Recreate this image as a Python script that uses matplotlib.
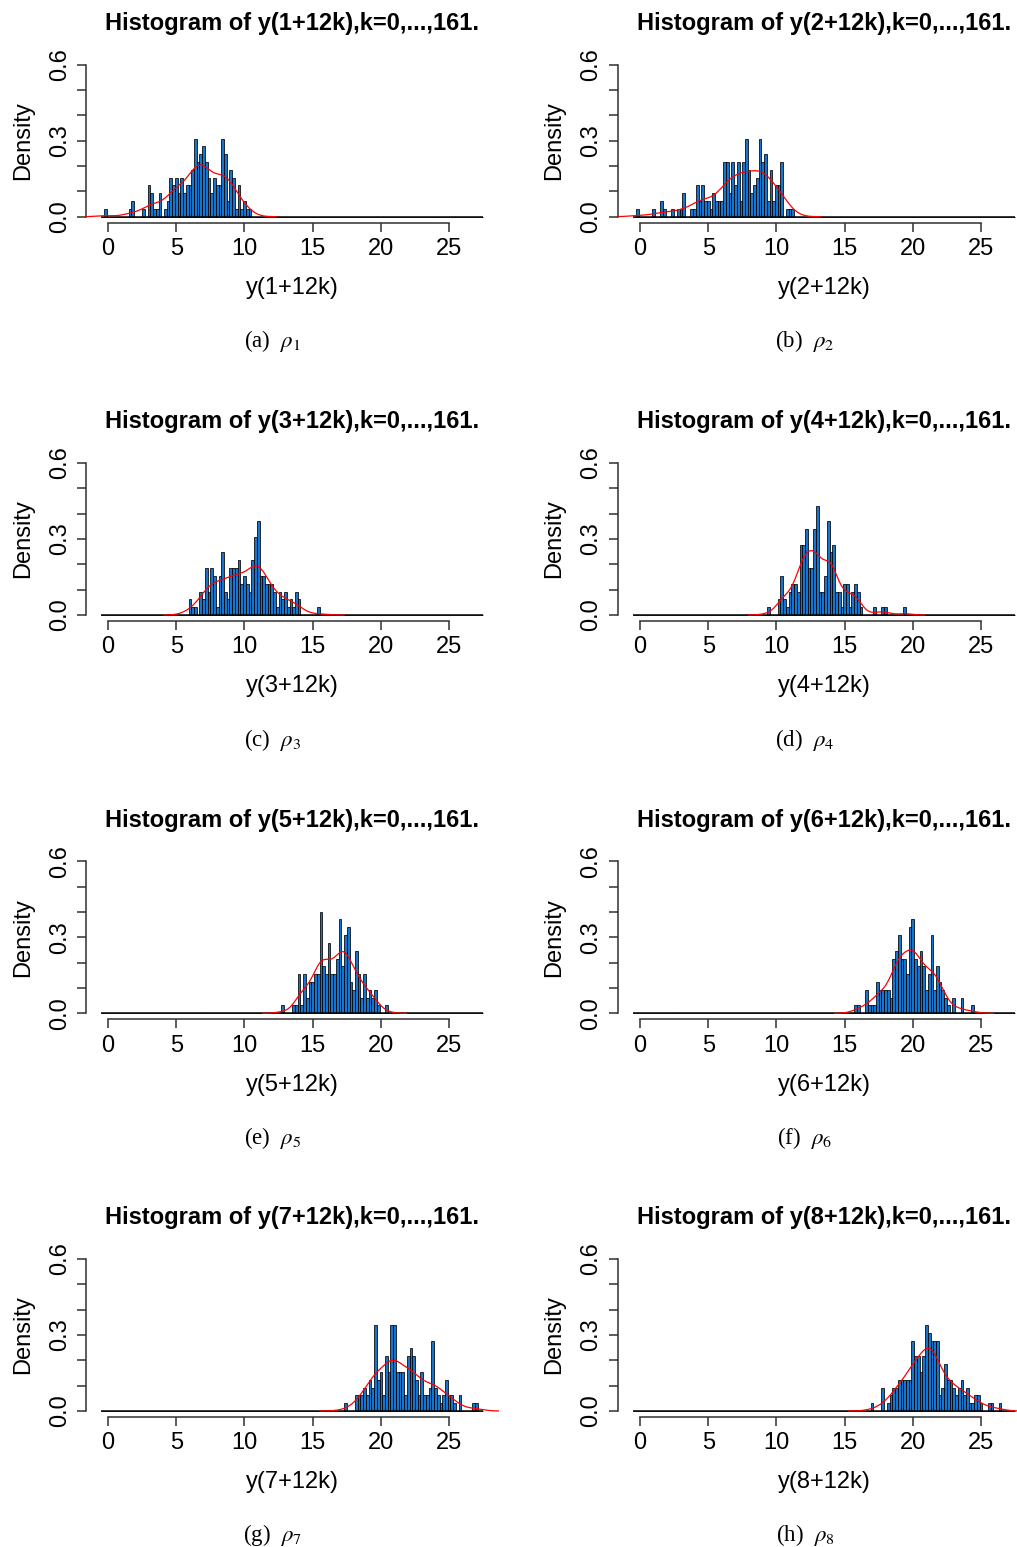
import numpy as np
import matplotlib
matplotlib.use("Agg")
import matplotlib.pyplot as plt

# ---------------------------------------------------------------------------
# Data: histogram counts of y(j+12k), k = 0..161, bins of width 0.2 on
# [-0.5, 27.5].  Each list starts at the bin whose left edge is start_yj.
# ---------------------------------------------------------------------------
N_OBS = 162
BIN_WIDTH = 0.2
BREAK_LO, BREAK_HI = -0.5, 27.5

start_y1 = -0.3
counts_y1 = [1, 0, 0, 0, 0, 0, 0, 0, 0, 1, 2, 0, 0, 0, 1, 0,
             4, 3, 1, 1, 3, 0, 1, 2, 5, 4, 5, 3, 5, 3, 4, 4, 6, 10, 7, 8,
             9, 7, 5, 3, 5, 4, 4, 10, 8, 2, 6, 5, 1, 4, 1, 2, 1, 1]

start_y2 = -0.3
counts_y2 = [1, 0, 0, 0, 0, 0, 1, 0, 0, 2, 1, 0, 0, 1, 0, 1, 1, 3, 0, 0, 1, 1,
             4, 2, 4, 2, 2, 1, 3, 2, 2, 2,
             7, 7, 3, 7, 4, 7, 2, 7, 10, 6,
             3, 4, 5, 10, 7, 8, 2, 6, 2, 4, 4, 7,
             0, 1, 1, 1]

start_y3 = 5.9
counts_y3 = [2, 1, 1, 0, 3, 2, 6, 3, 6, 5, 1, 5, 8, 3, 2, 6, 6, 6, 7, 4,
             5, 4, 3, 7, 10, 12,
             5, 5, 4, 4, 4, 3, 1, 3, 2, 3, 1, 2, 1, 3, 2,
             0, 0, 0, 0, 0, 0, 1]

start_y4 = 9.3
counts_y4 = [1, 0, 0, 0, 2, 5, 2, 1, 3, 4, 4, 3, 9, 9, 11, 6, 6, 11, 14,
             3, 3, 5, 12, 8, 9, 3, 3, 1, 4, 4, 1, 3, 4, 3, 1,
             0, 0, 0, 0, 1, 0, 0, 1, 1, 0, 0, 0, 0, 0, 0, 1]

start_y5 = 12.7
counts_y5 = [1, 0, 0, 0, 1, 1, 5, 1, 5, 2, 4, 4, 5, 5, 13, 6, 5, 9, 5, 5,
             7, 12, 6, 10, 11, 4, 3, 8, 5, 2, 5, 2, 3, 2, 3, 1, 0, 0, 1]

start_y6 = 15.7
counts_y6 = [1, 1, 0, 0, 3, 1, 1, 1, 4, 3, 3, 3, 3, 2, 7, 8, 10, 7, 7, 5,
             11, 12, 7, 6, 8, 6, 3, 5, 10, 3, 6, 4, 3, 2, 1, 0, 2, 0, 0, 2,
             0, 0, 0, 1]

start_y7 = 17.3
counts_y7 = [1, 0, 0, 0, 2, 2, 2, 3, 2, 4, 3, 11, 4, 5, 2, 7, 5, 11, 11,
             5, 5, 5, 2, 7, 8, 7, 4, 2, 5, 2, 2, 3, 9, 3, 2, 1, 2, 4, 2, 2,
             1, 0, 2, 0, 0, 0, 0, 1, 1]

start_y8 = 16.9
counts_y8 = [1, 0, 0, 0, 3, 0, 1, 2, 3, 3, 4, 4, 4, 4, 4, 9, 7, 7, 5, 7,
             11, 10, 9, 9, 9, 2, 3, 6, 4, 4, 3, 2, 3, 4, 2, 3, 1, 1, 2, 2,
             1, 0, 0, 1, 1, 0, 0, 1]

series_index = [1, 2, 3, 4, 5, 6, 7, 8]
panel_letters = ["a", "b", "c", "d", "e", "f", "g", "h"]
panel_starts = [start_y1, start_y2, start_y3, start_y4,
                start_y5, start_y6, start_y7, start_y8]
panel_counts = [counts_y1, counts_y2, counts_y3, counts_y4,
                counts_y5, counts_y6, counts_y7, counts_y8]

x_ticks = [0, 5, 10, 15, 20, 25]
y_ticks = [0.0, 0.1, 0.2, 0.3, 0.4, 0.5, 0.6]
y_ticklabels = ["0.0", "", "", "0.3", "", "", "0.6"]

# ---------------------------------------------------------------------------
# Styling / layout
# ---------------------------------------------------------------------------
BAR_COLOR = "#1874CD"
AXIS_COLOR = "#303030"
SANS = ["Liberation Sans", "DejaVu Sans"]
SERIF = ["Liberation Serif", "DejaVu Serif"]

plt.rcParams["font.family"] = SANS
plt.rcParams["mathtext.fontset"] = "stix"

W, H = 1017, 1547
fig = plt.figure(figsize=(W / 100, H / 100), dpi=100)
fig.patch.set_facecolor("white")

col_left_px = [86.0, 617.9]
col_shift_px = [0.0, 531.9]
caption_x_px = [272.5, 805.0]
row_base_px = [216.7, 615.0, 1013.3, 1411.0]
px_per_unit_y = 253.3
px_per_unit_x = 13.64
XLIM = (-1.62, 28.63)
YLIM = (-0.024, 0.624)
axes_w_px = (XLIM[1] - XLIM[0]) * px_per_unit_x
axes_h_px = (YLIM[1] - YLIM[0]) * px_per_unit_y


def kde_nrd0(sample, grid):
    n = sample.size
    sd = sample.std(ddof=1)
    q75, q25 = np.percentile(sample, [75, 25])
    bw = 0.9 * min(sd, (q75 - q25) / 1.34) * n ** (-0.2)
    z = (grid[:, None] - sample[None, :]) / bw
    dens = np.exp(-0.5 * z ** 2).sum(axis=1) / (n * bw * np.sqrt(2 * np.pi))
    return dens, bw


all_edges = np.round(np.arange(BREAK_LO, BREAK_HI + 1e-9, BIN_WIDTH), 6)

for i, (j, letter, start, counts) in enumerate(
        zip(series_index, panel_letters, panel_starts, panel_counts)):
    row, col = divmod(i, 2)
    base = row_base_px[row]
    left = col_left_px[col]
    top_px = base - YLIM[1] * px_per_unit_y
    bottom_px = top_px + axes_h_px
    ax = fig.add_axes([left / W, 1 - bottom_px / H, axes_w_px / W, axes_h_px / H])

    # full set of bins; empty ones collapse onto the zero line
    counts_full = np.zeros(all_edges.size - 1)
    first = int(round((start - BREAK_LO) / BIN_WIDTH))
    counts_full[first:first + len(counts)] = counts
    density = counts_full / (N_OBS * BIN_WIDTH)
    ax.bar(all_edges[:-1], density, width=BIN_WIDTH, align="edge",
           color=BAR_COLOR, edgecolor="black", linewidth=0.55, zorder=2)
    ax.hlines(0, all_edges[0], all_edges[-1], color="black",
              linewidth=1.1, zorder=2.5)

    # kernel density estimate of the same observations
    mids = all_edges[:-1] + BIN_WIDTH / 2
    sample = np.repeat(mids, counts_full.astype(int))
    _, bw = kde_nrd0(sample, np.array([0.0]))
    grid = np.linspace(sample.min() - 3 * bw, sample.max() + 3 * bw, 512)
    dens, _ = kde_nrd0(sample, grid)
    ax.plot(grid, dens, color="red", linewidth=0.9, zorder=3)

    ax.set_xlim(*XLIM)
    ax.set_ylim(*YLIM)
    for s in ("top", "right"):
        ax.spines[s].set_visible(False)
    ax.spines["left"].set_bounds(0, 0.6)
    ax.spines["bottom"].set_bounds(0, 25)
    for s in ("left", "bottom"):
        ax.spines[s].set_color(AXIS_COLOR)
        ax.spines[s].set_linewidth(1.1)

    ax.set_xticks(x_ticks)
    ax.set_xticklabels([str(t) for t in x_ticks])
    ax.set_yticks(y_ticks)
    ax.set_yticklabels(y_ticklabels)
    ax.tick_params(direction="out", length=6.5, width=1.1, color=AXIS_COLOR,
                   labelsize=17, labelcolor="black")
    ax.tick_params(axis="x", pad=4.5)
    ax.tick_params(axis="y", pad=4.5, labelrotation=90)
    for lbl in ax.get_yticklabels():
        lbl.set_va("center")

    ax.set_title(f"Histogram of y({j}+12k),k=0,...,161.", fontsize=17,
                 fontweight="bold", pad=20.6)

    ax.set_xlabel(f"y({j}+12k)", fontsize=17)
    xlabel_top_px = base + 60.3
    ax.xaxis.set_label_coords(0.5, -(xlabel_top_px - bottom_px) / axes_h_px)
    ax.xaxis.label.set_va("top")

    ax.set_ylabel("Density", fontsize=17)
    ylabel_x_px = 22.7 + col_shift_px[col]
    ax.yaxis.set_label_coords((ylabel_x_px - left) / axes_w_px, 0.5)
    ax.yaxis.label.set_va("center")

    fig.text(caption_x_px[col] / W, 1 - (base + 124.5) / H,
             f"({letter})  $\\rho_{j}$", ha="center", va="center",
             fontsize=16.5, family=SERIF)

fig.savefig("out.png", dpi=100, facecolor="white")
